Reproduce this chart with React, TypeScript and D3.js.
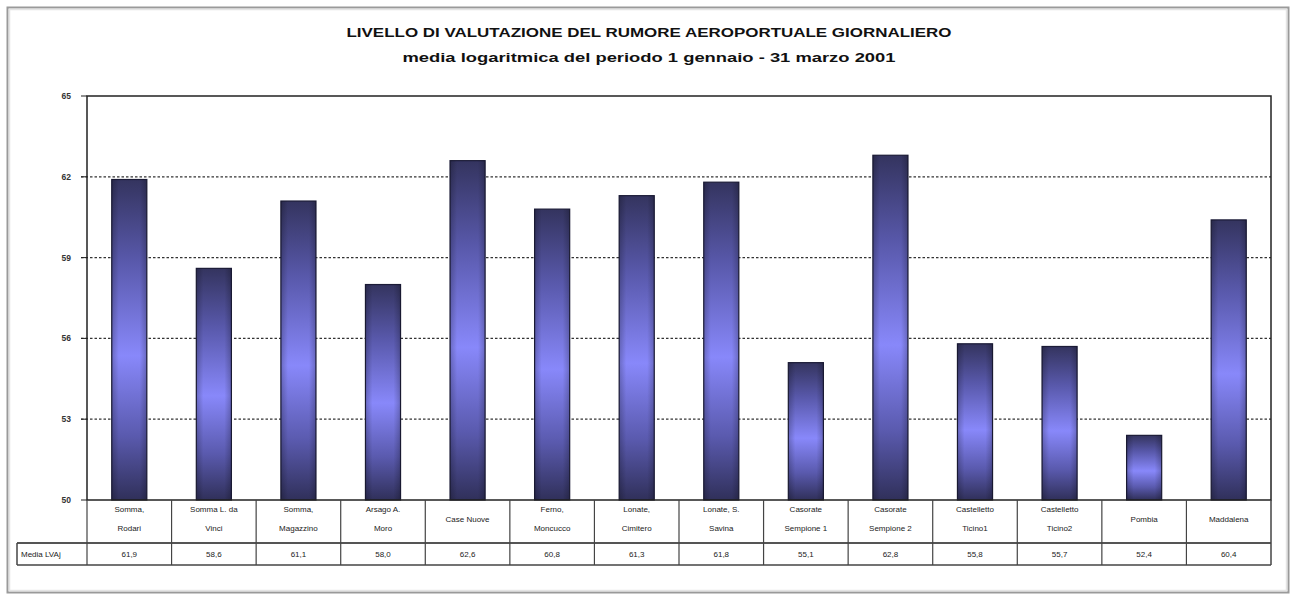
import React from "react";
import * as d3 from "d3";

const categories: string[][] = [
  ["Somma,", "Rodari"],
  ["Somma L. da", "Vinci"],
  ["Somma,", "Magazzino"],
  ["Arsago A.", "Moro"],
  ["Case Nuove"],
  ["Ferno,", "Moncucco"],
  ["Lonate,", "Cimitero"],
  ["Lonate, S.", "Savina"],
  ["Casorate", "Sempione 1"],
  ["Casorate", "Sempione 2"],
  ["Castelletto", "Ticino1"],
  ["Castelletto", "Ticino2"],
  ["Pombia"],
  ["Maddalena"],
];

const values: number[] = [61.9, 58.6, 61.1, 58.0, 62.6, 60.8, 61.3, 61.8, 55.1, 62.8, 55.8, 55.7, 52.4, 60.4];

const yTicks: number[] = [50, 53, 56, 59, 62, 65];

const titleLine1 = "LIVELLO DI VALUTAZIONE DEL RUMORE AEROPORTUALE GIORNALIERO";
const titleLine2 = "media logaritmica del periodo 1 gennaio - 31 marzo 2001";
const rowLabel = "Media LVAj";

const W = 1292;
const H = 595;
const plot = { left: 87, right: 1271, top: 96, bottom: 500 };
const catRowBottom = 543;
const valRowBottom = 565;
const tableLeft = 17;

const FONT = "'Liberation Sans', Arial, sans-serif";

export default function App() {
  const keys = categories.map((c, i) => String(i));
  const x = d3.scaleBand<string>().domain(keys).range([plot.left, plot.right]).padding(0);
  const y = d3.scaleLinear().domain([50, 65]).range([plot.bottom, plot.top]);
  const step = x.step();
  const barW = step * 0.415;
  const fmt = (v: number) => d3.format(".1f")(v).replace(".", ",");

  return (
    <div style={{ position: "absolute", left: 0, top: 0, width: W, height: H, background: "#fff" }}>
      <svg width={W} height={H} style={{ display: "block" }} fontFamily={FONT}>
        <defs>
          <linearGradient id="barFill" x1="0" y1="0" x2="0" y2="1">
            <stop offset="0" stopColor="#34345f" />
            <stop offset="0.25" stopColor="#5858aa" />
            <stop offset="0.55" stopColor="#8888fa" />
            <stop offset="0.8" stopColor="#5a5aae" />
            <stop offset="1" stopColor="#30305a" />
          </linearGradient>
          <linearGradient id="barEdge" x1="0" y1="0" x2="1" y2="0">
            <stop offset="0" stopColor="#000" stopOpacity="0.22" />
            <stop offset="0.2" stopColor="#000" stopOpacity="0" />
            <stop offset="0.8" stopColor="#000" stopOpacity="0" />
            <stop offset="1" stopColor="#000" stopOpacity="0.22" />
          </linearGradient>
        </defs>

        <rect x={0} y={0} width={W} height={H} fill="#fff" />
        {/* outer chart frame */}
        <rect x={7.5} y={7.5} width={1281} height={585} fill="none" stroke="#9a9a9a" strokeWidth={2} />
        <rect x={9.5} y={9.5} width={1277} height={581} fill="none" stroke="#e4e4e4" strokeWidth={1.5} />

        {/* titles */}
        <text x={649} y={37} textAnchor="middle" fontSize={12.5} fontWeight="bold" fill="#111"
          textLength={605} lengthAdjust="spacingAndGlyphs">{titleLine1}</text>
        <text x={649} y={62} textAnchor="middle" fontSize={12.5} fontWeight="bold" fill="#111"
          textLength={493} lengthAdjust="spacingAndGlyphs">{titleLine2}</text>

        {/* gridlines */}
        {yTicks.filter((t) => t > 50 && t < 65).map((t) => (
          <line key={`g${t}`} x1={plot.left - 6} x2={plot.right} y1={y(t)} y2={y(t)}
            stroke="#333" strokeWidth={1.2} strokeDasharray="2.5,2" />
        ))}

        {/* y ticks and labels */}
        {yTicks.map((t) => (
          <g key={`t${t}`}>
            <line x1={plot.left - 6} x2={plot.left} y1={y(t)} y2={y(t)} stroke="#222" strokeWidth={1} />
            <text x={71} y={y(t) + 3} textAnchor="end" fontSize={8.5} fontWeight="bold" fill="#333">{t}</text>
          </g>
        ))}

        {/* bars */}
        {values.map((v, i) => {
          const cx = (x(String(i)) as number) + step / 2;
          const top = y(v);
          return (
            <g key={`b${i}`}>
              <rect x={cx - barW / 2} y={top} width={barW} height={plot.bottom - top}
                fill="url(#barFill)" stroke="#1c1c38" strokeWidth={1.2} />
              <rect x={cx - barW / 2} y={top} width={barW} height={plot.bottom - top}
                fill="url(#barEdge)" />
            </g>
          );
        })}

        {/* plot area frame */}
        <rect x={plot.left} y={plot.top} width={plot.right - plot.left} height={plot.bottom - plot.top}
          fill="none" stroke="#222" strokeWidth={1.5} />

        {/* data table */}
        <line x1={tableLeft} x2={plot.right} y1={catRowBottom} y2={catRowBottom} stroke="#555" strokeWidth={2} />
        <line x1={tableLeft} x2={plot.right} y1={valRowBottom} y2={valRowBottom} stroke="#444" strokeWidth={1.5} />
        <line x1={tableLeft} x2={tableLeft} y1={catRowBottom} y2={valRowBottom} stroke="#444" strokeWidth={1.5} />
        {keys.map((k) => (
          <line key={`v${k}`} x1={x(k) as number} x2={x(k) as number} y1={plot.bottom} y2={valRowBottom}
            stroke="#444" strokeWidth={1.2} />
        ))}
        <line x1={plot.right} x2={plot.right} y1={plot.bottom} y2={valRowBottom} stroke="#444" strokeWidth={1.5} />

        {categories.map((lines, i) => {
          const cx = (x(String(i)) as number) + step / 2;
          const ys = lines.length === 1 ? [522] : [512, 531];
          return lines.map((ln, j) => (
            <text key={`c${i}-${j}`} x={cx} y={ys[j]} textAnchor="middle" fontSize={8} fill="#222">{ln}</text>
          ));
        })}

        <text x={tableLeft + 4} y={557} fontSize={8} fill="#222">{rowLabel}</text>
        {values.map((v, i) => {
          const cx = (x(String(i)) as number) + step / 2;
          return (
            <text key={`val${i}`} x={cx} y={557} textAnchor="middle" fontSize={8} fill="#222">{fmt(v)}</text>
          );
        })}
      </svg>
    </div>
  );
}
